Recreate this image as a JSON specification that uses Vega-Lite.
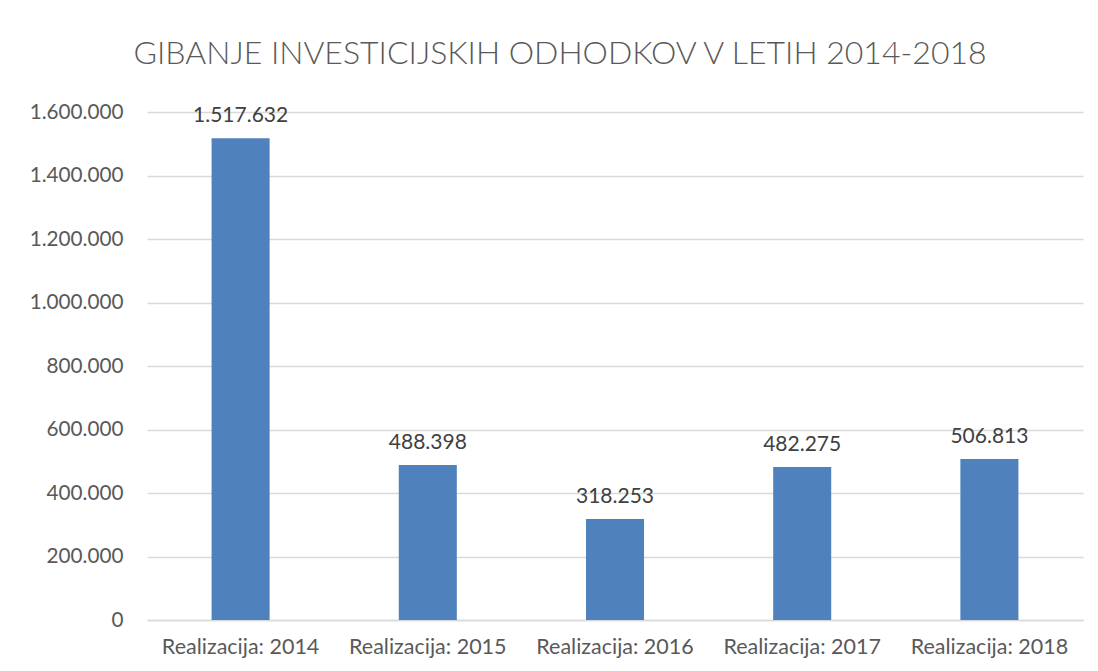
{
  "$schema": "https://vega.github.io/schema/vega-lite/v6.json",
  "width": 936,
  "height": 508,
  "autosize": {"type": "none"},
  "padding": {"left": 147, "top": 112, "right": 15, "bottom": 51},
  "background": "white",
  "config": {
    "locale": {"number": {"decimal": ",", "thousands": ".", "grouping": [3], "currency": ["", " €"]}},
    "font": "Lato",
    "view": {"stroke": null},
    "title": {"font": "Lato", "fontSize": 32, "fontWeight": 300, "color": "#595959"}
  },
  "title": {"text": "GIBANJE INVESTICIJSKIH ODHODKOV V LETIH 2014-2018", "anchor": "middle", "frame": "group", "dx": -55, "offset": 30},
  "data": {"values": [
    {"kategorija": "Realizacija: 2014", "vrednost": 1517632},
    {"kategorija": "Realizacija: 2015", "vrednost": 488398},
    {"kategorija": "Realizacija: 2016", "vrednost": 318253},
    {"kategorija": "Realizacija: 2017", "vrednost": 482275},
    {"kategorija": "Realizacija: 2018", "vrednost": 506813}
  ]},
  "encoding": {
    "x": {"field": "kategorija", "type": "nominal", "sort": null,
      "scale": {"paddingInner": 0.69, "paddingOuter": 0.345},
      "axis": {"title": null, "labelAngle": 0, "labelFont": "Lato", "labelFontSize": 21.5, "labelColor": "#595959", "labelPadding": 16, "ticks": false, "domainColor": "#d9d9d9", "domainWidth": 1.5}},
    "y": {"field": "vrednost", "type": "quantitative",
      "scale": {"domain": [0, 1600000], "nice": false},
      "axis": {"title": null, "format": ",d", "values": [0, 200000, 400000, 600000, 800000, 1000000, 1200000, 1400000, 1600000], "labelFont": "Lato", "labelFontSize": 20.7, "labelColor": "#595959", "labelPadding": 24, "ticks": false, "domain": false, "gridColor": "#d9d9d9", "gridWidth": 1.5}}
  },
  "layer": [
    {"mark": {"type": "bar", "color": "#4F81BD"}},
    {"mark": {"type": "text", "baseline": "alphabetic", "dy": -16, "font": "Lato", "fontSize": 21, "color": "#404040"},
     "encoding": {"text": {"field": "vrednost", "type": "quantitative", "format": ",d"}}}
  ]
}
